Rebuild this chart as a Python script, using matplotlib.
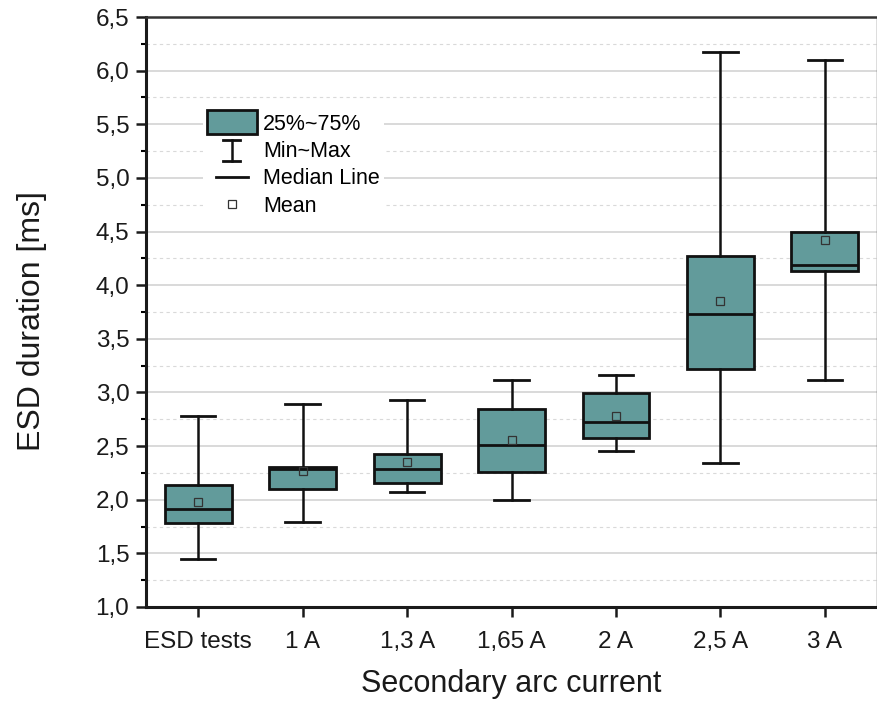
import matplotlib
matplotlib.use("Agg")
import matplotlib.pyplot as plt
from matplotlib.patches import Rectangle
from matplotlib.lines import Line2D
from matplotlib.legend_handler import HandlerBase
from matplotlib.ticker import MultipleLocator, FuncFormatter

plt.rcParams['font.family'] = ['Liberation Sans', 'DejaVu Sans']

# Secondary arc current groups and their ESD duration statistics [ms]
categories = ["ESD tests", "1 A", "1,3 A", "1,65 A", "2 A", "2,5 A", "3 A"]
minimum = [1.445, 1.79, 2.07, 2.00, 2.45, 2.345, 3.12]
q1 = [1.78, 2.10, 2.155, 2.26, 2.58, 3.22, 4.13]
median = [1.915, 2.29, 2.29, 2.51, 2.72, 3.73, 4.19]
q3 = [2.14, 2.305, 2.425, 2.85, 2.995, 4.27, 4.495]
maximum = [2.78, 2.89, 2.93, 3.12, 3.16, 6.17, 6.10]
mean = [1.975, 2.27, 2.35, 2.555, 2.78, 3.85, 4.42]

FILL = "#629b9b"
EDGE = "#111111"

fig = plt.figure(figsize=(8.78, 7.01), dpi=100)
ax = fig.add_axes([0.1663, 0.1341, 0.8326, 0.8416])

stats = []
for i, c in enumerate(categories):
    stats.append(dict(label=c, whislo=minimum[i], q1=q1[i], med=median[i],
                      q3=q3[i], whishi=maximum[i], mean=mean[i], fliers=[]))

ax.bxp(stats, positions=range(1, len(categories) + 1), widths=0.64,
       patch_artist=True, showmeans=True, showfliers=False,
       boxprops=dict(facecolor=FILL, edgecolor=EDGE, linewidth=2.0),
       medianprops=dict(color=EDGE, linewidth=2.0),
       whiskerprops=dict(color=EDGE, linewidth=1.8),
       capprops=dict(color=EDGE, linewidth=2.0),
       capwidths=0.33,
       meanprops=dict(marker='s', markersize=5.5, markerfacecolor='none',
                      markeredgecolor='#333333', markeredgewidth=0.9),
       zorder=3)

ax.set_xlim(0.5, len(categories) + 0.5)
ax.set_ylim(1.0, 6.5)
ax.yaxis.set_major_locator(MultipleLocator(0.5))
ax.yaxis.set_minor_locator(MultipleLocator(0.25))
ax.yaxis.set_major_formatter(FuncFormatter(lambda v, p: f"{v:.1f}".replace('.', ',')))

ax.grid(True, which='major', axis='y', color='#cfcfcf', linewidth=1.1, zorder=0)
ax.grid(True, which='minor', axis='y', color='#d9d9d9', linewidth=0.8,
        linestyle=(0, (3, 3)), zorder=0)
ax.set_axisbelow(True)

for side in ('left', 'bottom'):
    ax.spines[side].set_linewidth(2.2)
    ax.spines[side].set_color('#1a1a1a')
ax.spines['top'].set_linewidth(1.8)
ax.spines['top'].set_color('#333333')
ax.spines['right'].set_linewidth(1.0)
ax.spines['right'].set_color('#555555')

ax.tick_params(axis='both', which='major', direction='out', length=7, width=1.8,
               labelsize=17.5, colors='#1a1a1a')
ax.tick_params(axis='y', which='major', pad=5)
ax.tick_params(axis='x', which='major', pad=10)
ax.tick_params(axis='y', which='minor', direction='out', length=3.5, width=1.5)
ax.tick_params(axis='x', which='minor', bottom=False)
ax.tick_params(right=False, top=False)

ax.set_xticks(range(1, len(categories) + 1), categories)
ax.set_xlabel("Secondary arc current", fontsize=22, labelpad=12, color='#1a1a1a')
ax.set_ylabel("ESD duration [ms]", fontsize=23, color='#1a1a1a')
ax.yaxis.set_label_coords(-0.135, 0.485)


class BoxHandler(HandlerBase):
    def create_artists(self, legend, orig, xd, yd, w, h, fs, trans):
        hh = h * 1.6
        r = Rectangle((xd, yd + (h - hh) / 2), w, hh, facecolor=FILL,
                      edgecolor=EDGE, linewidth=2.0, transform=trans)
        return [r]


class WhiskerHandler(HandlerBase):
    def create_artists(self, legend, orig, xd, yd, w, h, fs, trans):
        cx = xd + w / 2
        top, bot = yd + h * 1.15, yd - h * 0.3
        cw = w * 0.17
        return [Line2D([cx, cx], [bot, top], color=EDGE, lw=1.8, transform=trans),
                Line2D([cx - cw, cx + cw], [top, top], color=EDGE, lw=2.0, transform=trans),
                Line2D([cx - cw, cx + cw], [bot, bot], color=EDGE, lw=2.0, transform=trans)]


class MedianHandler(HandlerBase):
    def create_artists(self, legend, orig, xd, yd, w, h, fs, trans):
        cx = xd + w / 2
        hw = w * 0.32
        return [Line2D([cx - hw, cx + hw], [yd + h / 2] * 2, color=EDGE, lw=2.0,
                       transform=trans)]


class MeanHandler(HandlerBase):
    def create_artists(self, legend, orig, xd, yd, w, h, fs, trans):
        return [Line2D([xd + w / 2], [yd + h / 2], marker='s', markersize=5.5,
                       markerfacecolor='none', markeredgecolor='#333333',
                       markeredgewidth=0.9, linestyle='none', transform=trans)]


h_box, h_wh, h_med, h_mean = object(), object(), object(), object()
leg = ax.legend([h_box, h_wh, h_med, h_mean],
                ["25%~75%", "Min~Max", "Median Line", "Mean"],
                handler_map={h_box: BoxHandler(), h_wh: WhiskerHandler(),
                             h_med: MedianHandler(), h_mean: MeanHandler()},
                loc='upper left', bbox_to_anchor=(0.063, 0.862),
                frameon=True, fancybox=False, framealpha=1.0, edgecolor='white',
                fontsize=15.5, handlelength=2.3, handletextpad=0.3,
                labelspacing=0.3, borderpad=0.2)
leg.get_frame().set_linewidth(0)
leg.set_zorder(5)

fig.savefig("out.png", dpi=100)
